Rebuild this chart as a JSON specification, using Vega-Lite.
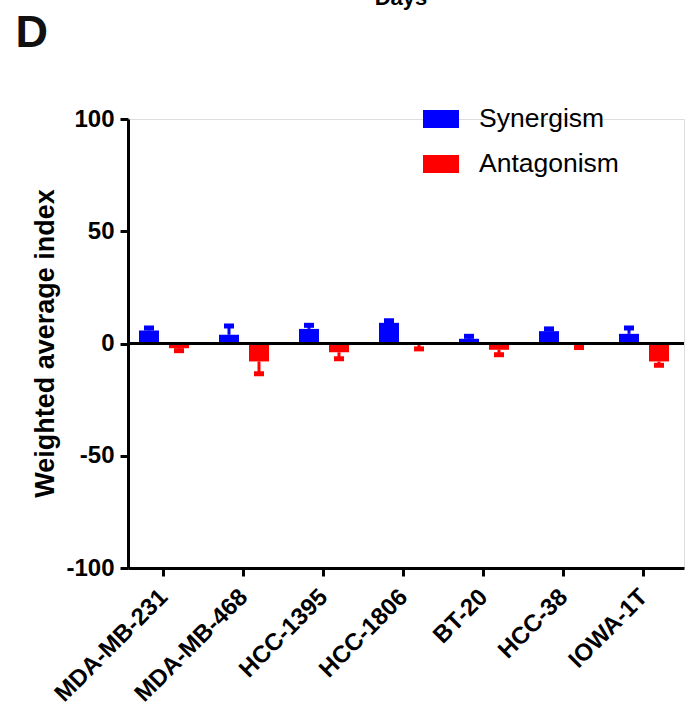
{
  "$schema": "https://vega.github.io/schema/vega-lite/v6.json",
  "autosize": "none",
  "width": 556,
  "height": 449,
  "padding": {"left": 128, "top": 119, "right": 15, "bottom": 143},
  "background": "white",
  "title": {"text": "Days", "anchor": "middle", "frame": "group", "fontSize": 22, "fontWeight": "bold", "font": "Liberation Sans", "color": "black", "dx": -5, "dy": 17, "offset": 0, "baseline": "alphabetic"},
  "data": {"values": [
    {"cell": "MDA-MB-231", "type": "Synergism", "mean": 5.8, "end": 6.9},
    {"cell": "MDA-MB-231", "type": "Antagonism", "mean": -2.1, "end": -3.2},
    {"cell": "MDA-MB-468", "type": "Synergism", "mean": 3.9, "end": 7.8},
    {"cell": "MDA-MB-468", "type": "Antagonism", "mean": -8.0, "end": -13.5},
    {"cell": "HCC-1395", "type": "Synergism", "mean": 6.5, "end": 8.1},
    {"cell": "HCC-1395", "type": "Antagonism", "mean": -3.9, "end": -6.8},
    {"cell": "HCC-1806", "type": "Synergism", "mean": 9.2, "end": 10.1},
    {"cell": "HCC-1806", "type": "Antagonism", "mean": -0.5, "end": -2.4},
    {"cell": "BT-20", "type": "Synergism", "mean": 2.1, "end": 3.2},
    {"cell": "BT-20", "type": "Antagonism", "mean": -2.8, "end": -5.0},
    {"cell": "HCC-38", "type": "Synergism", "mean": 5.5, "end": 6.5},
    {"cell": "HCC-38", "type": "Antagonism", "mean": -0.4, "end": -1.8},
    {"cell": "IOWA-1T", "type": "Synergism", "mean": 4.3, "end": 6.9},
    {"cell": "IOWA-1T", "type": "Antagonism", "mean": -8.0, "end": -9.7}
  ]},
  "resolve": {"axis": {"x": "independent"}},
  "layer": [
    {
      "mark": {"type": "bar"},
      "encoding": {
        "x": {"field": "cell", "type": "nominal", "sort": null,
          "scale": {"paddingInner": 0.375, "paddingOuter": 0.1625, "align": 0.423},
          "axis": {"title": null, "labelAngle": -45, "labelAlign": "right", "labelBaseline": "middle", "labelFont": "Liberation Sans", "labelFontSize": 24, "labelFontWeight": "bold", "labelColor": "black", "labelPadding": 17, "labelDx": 3, "tickSize": 8, "tickWidth": 3, "tickColor": "black", "domainWidth": 3, "domainColor": "black", "labelOverlap": false, "labelBound": false}},
        "xOffset": {"field": "type", "type": "nominal", "sort": ["Synergism", "Antagonism"], "scale": {"paddingInner": 0.3333, "paddingOuter": 0}},
        "y": {"field": "mean", "type": "quantitative",
          "scale": {"domain": [-100, 100], "nice": false, "zero": false},
          "axis": {"title": "Weighted average index", "values": [-100, -50, 0, 50, 100], "labelExpr": "'' + datum.value", "grid": false, "labelFont": "Liberation Sans", "labelFontSize": 24, "labelFontWeight": "bold", "labelColor": "black", "labelPadding": 6, "tickSize": 8, "tickWidth": 3, "tickColor": "black", "domainWidth": 3, "domainColor": "black", "titleFont": "Liberation Sans", "titleFontSize": 27, "titleFontWeight": "bold", "titleColor": "black", "titleX": -75, "titleY": 224, "titleAngle": -90, "titleAlign": "center", "titleBaseline": "alphabetic"}},
        "y2": {"datum": 0},
        "color": {"field": "type", "type": "nominal", "sort": ["Synergism", "Antagonism"],
          "scale": {"domain": ["Synergism", "Antagonism"], "range": ["#0000FF", "#FF0000"]},
          "legend": {"title": null, "orient": "none", "legendX": 295, "legendY": -18, "symbolType": "M-1,-0.5H1V0.5H-1Z", "symbolSize": 1296, "symbolStrokeWidth": 0, "symbolOpacity": 1, "labelFont": "Liberation Sans", "labelFontSize": 26.5, "labelColor": "black", "labelOffset": 20, "rowPadding": 13}}
      }
    },
    {
      "mark": {"type": "rule", "strokeWidth": 3},
      "encoding": {
        "x": {"field": "cell", "type": "nominal", "sort": null, "axis": null},
        "xOffset": {"field": "type", "type": "nominal", "sort": ["Synergism", "Antagonism"]},
        "y": {"field": "mean", "type": "quantitative", "title": "Weighted average index"},
        "y2": {"field": "end"},
        "color": {"field": "type", "type": "nominal"}
      }
    },
    {
      "mark": {"type": "tick", "thickness": 5, "size": 10, "orient": "horizontal"},
      "encoding": {
        "x": {"field": "cell", "type": "nominal", "sort": null,
          "axis": {"orient": "top", "labels": false, "ticks": false, "domain": false, "title": "D", "titleFont": "Liberation Sans", "titleFontSize": 45, "titleFontWeight": "bold", "titleColor": "#111111", "titleX": -113, "titleY": -73, "titleBaseline": "alphabetic", "titleAlign": "left"}},
        "xOffset": {"field": "type", "type": "nominal", "sort": ["Synergism", "Antagonism"]},
        "y": {"field": "end", "type": "quantitative", "title": "Weighted average index"},
        "color": {"field": "type", "type": "nominal"},
        "opacity": {"value": 1}
      }
    },
    {
      "mark": {"type": "rule", "color": "black", "strokeWidth": 3},
      "encoding": {
        "y": {"datum": 0, "type": "quantitative"}
      }
    }
  ]
}
